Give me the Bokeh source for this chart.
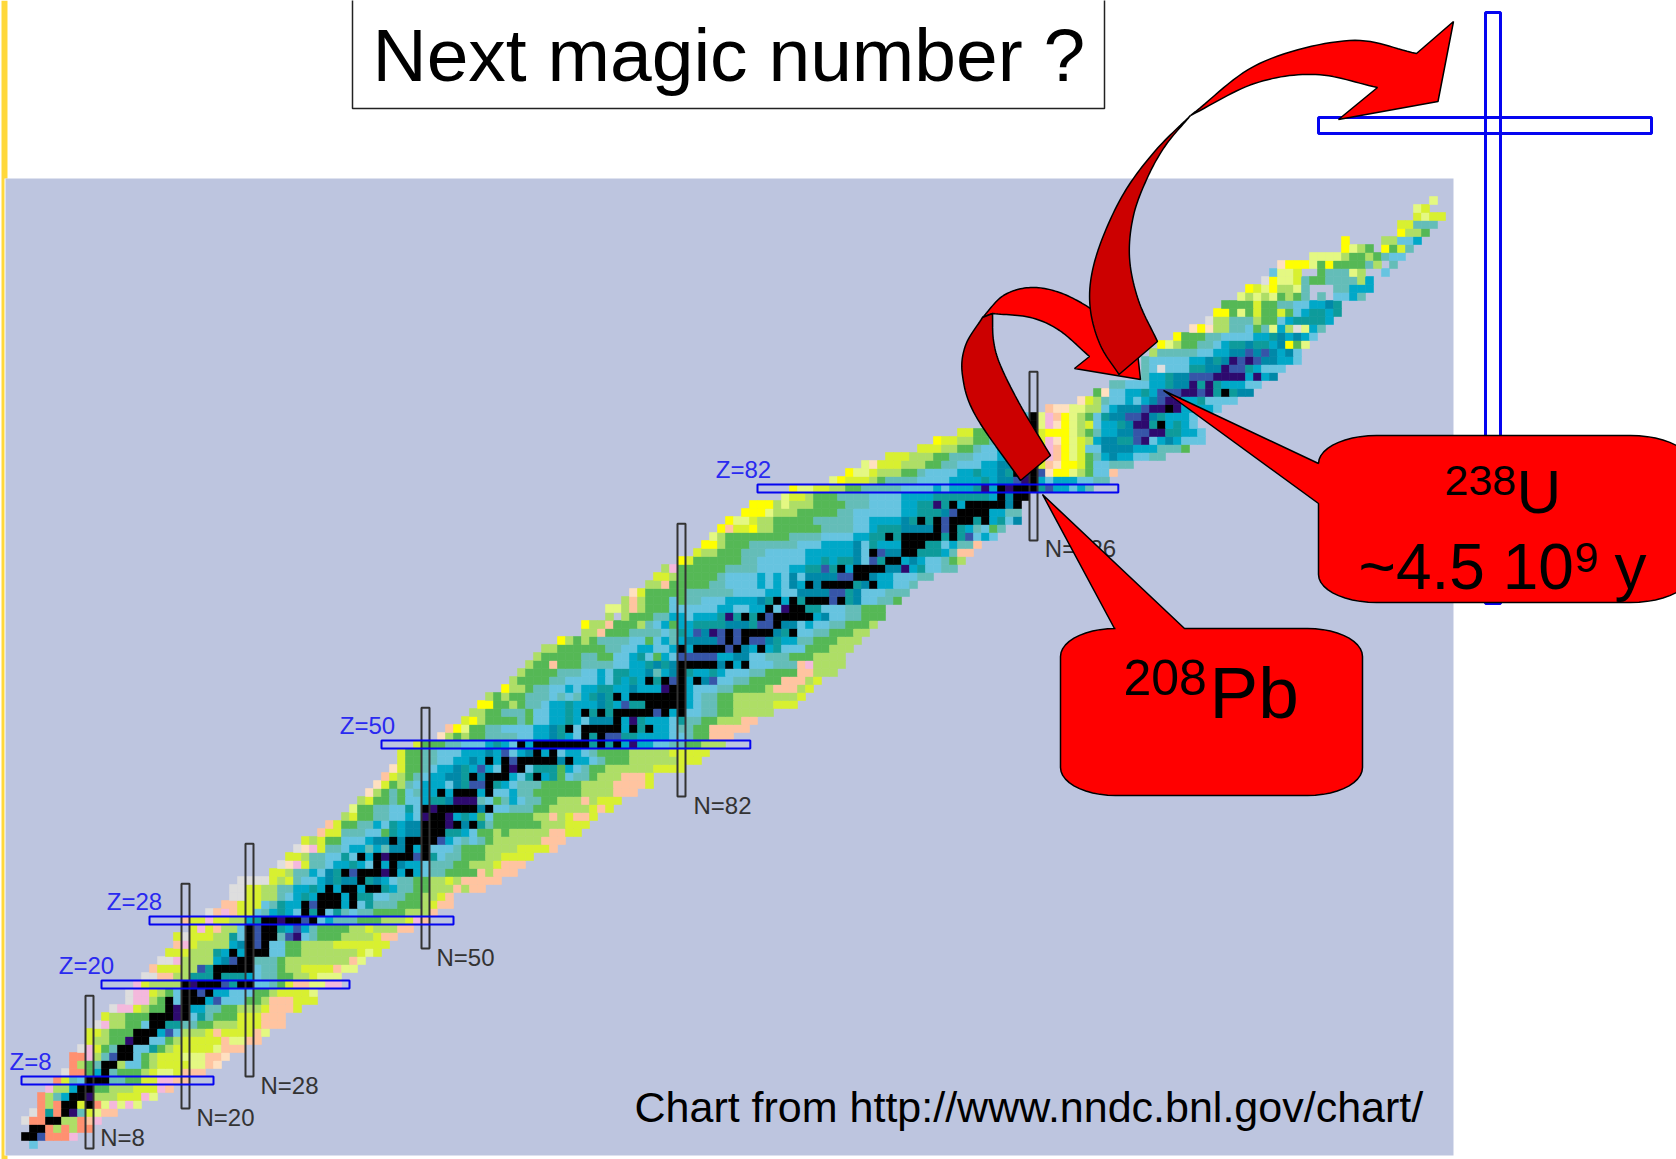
from bokeh.plotting import figure
from bokeh.embed import file_html
from bokeh.resources import INLINE
from bokeh.core.properties import value
from bokeh.models import Range1d
import numpy as np

W, H = 1676, 1159
CELL = 8
X0, Y0 = 25, 1144

PALETTE = {"k": "#000000", "b": "#2d0a6e", "c": "#3655a8", "d": "#0088a8", "e": "#0d9b9b",
           "f": "#00a8c8", "g": "#66c4e0", "h": "#64bdb8", "i": "#55b855", "j": "#aede66",
           "l": "#d8f030", "p": "#e4f882", "y": "#ffff00", "n": "#ffc4a0", "o": "#f4b8dc",
           "s": "#ff9070", "q": "#ffe0c0", "r": "#dedede"}

# (proton number Z, first neutron number N, half-life class of each nuclide in the row)
ROWS = [
 (0,1,"g"),(1,0,"kkcssso"),(2,1,"kksjsjss"),(3,0,"rsskkjjsno"),(4,1,"rseskbhlpnn"),
 (5,2,"sjskklkspopop"),(6,2,"sjhfkkbjjjlllop"),(7,3,"ojjfkkiijjjlllon"),(8,4,"slhgkkkhhiilloonn"),
 (9,5,"rssifkhiiijlpplnnn"),(10,6,"sjihkkjggijllllppnq"),(11,6,"ssojhckkgijlllpppnnq"),
 (12,7,"rolihkkggeijlllllpnnn"),(13,8,"ljjiibkkggijlllllnppnn"),(14,8,"lljiiikkkfcgjjjlnllllnp"),
 (15,9,"rojjiigkkeehhiijjjlllnnn"),(16,10,"ljjiiikkkbkgehiiilllnnn"),(17,11,"rooljiikbkffhhiijjjlnnnl"),
 (18,13,"roojikgkkkfcgggiijnnnlll"),(19,13,"rooljigkkckffgggiijllllp"),(20,14,"oljjjjkbkkkcekkgghilnnppoo"),
 (21,15,"rrnnjjeeekeeefghhiijjlppp"),(22,16,"nllljjcekkkkkghhijjllllnpp"),(23,17,"rrojjjjfdckkhhhijjjjjjjjnp"),
 (24,18,"llljjjefkfkkkggiijjjjjjjlpl"),(25,19,"noljjjjfdkckggiijjjjlllllll"),(26,19,"lrllljjegkckkhcbghiiijjjjlnn"),
 (27,21,"lolnjjgkckkefcfhiiiijjljjjnn"),(28,20,"nllolljjfekkbkkckgfhhhiiijjjlon"),(29,23,"rnonllghfefgkekgehghhiiiijjjn"),
 (30,25,"nnlllgheffkckkkfkgehhhiiijlnn"),(31,26,"rrlljjhgfefkkkfkeegghhiijjln"),(32,26,"rrlljjhhffefkfkkfkkefhhiijjjnjnn"),
 (33,27,"rrrrljlhggfdeddkedfghhiijjljnnnnn"),(34,31,"lljhhfgdekckkkbkfkfghhiiiinjnnn"),(35,32,"rqolhhgffefgkfkdffghhhiijjjlnnn"),
 (36,33,"lljhhggegkfkbkkkckeghhiiijjllll"),(37,34,"rqolhhgffhfhddkfkggghiiijjjjlllln"),(38,35,"ljliigggfddkdkkkkcfghghijjjjjjnnn"),
 (39,37,"nllhhhggiefddkkkeefgiijijjjjjnnll"),(40,38,"nliihhfgefddkkkbkdkehiiiiiijjjlll"),(41,40,"jliihhggfgbkkbfefigiiiiijjnjlnnl"),
 (42,41,"piihhggegkbkkkkkdkgghhhiijjjjjlnl"),(43,42,"jliihiggfeedbbbhgihfghhiijjjnjlll"),
 (44,43,"qjihighffkfkkkfkggfhhiiiiiijjjjnnn"),(45,44,"qlijhgfffgdecckefghhhiiiiijjjjnnnnl"),
 (46,45,"nljihgffddekdkkkfgekfeighhijjjnnnl"),(47,46,"qliihgffdefcfgkbkgeeeifghiijjjjjjllll"),
 (48,47,"liihhggffdfkfkckkkkkdkffghiiijjjjjjlll"),(49,47,"liihhgggfffdfcgfdkfkgffghiiiijjjjjlllll"),
 (50,49,"liiihhgggfefgkfkkkkkkkekekfbffgghhiijjj"),(51,52,"qjijiihhhhggffdefgkekcceeffffgghiinnn"),
 (52,53,"nypiihhggggffdekgkkkkkfkekffghhiinnnnn"),(53,55,"lyjiiiihiggffefgdddkfbefffgehhiijjjnn"),
 (54,56,"jjiihhhiggffefkekekkkkkckfkgghhiijjjjj"),(55,57,"yyiijihhgffefffdefceekkkkkfghhiijjjjjlll"),
 (56,58,"jijiihhhghghfedekfkkkkkkkfghhiijjjjjjjjl"),(57,60,"yjjihhggfgffeeffdfffbkkfggghhiiiijnnnjl"),
 (58,61,"jiiiihhggggfgefefkekckfkdcgghhiiiinnnjl"),(59,62,"jiiiihhhggfgeeffdhfdkeffefggghhiiiinnjjj"),
 (60,63,"jiiniiihhhhggffededkkkkkdkfkggghhhnojjjj"),(61,64,"jiiiiihhiiggfegifgcccccffddgghhhiiijjjj"),
 (62,65,"jjiiiiiihhggffggfkfkkkkckdfkfegggiiijjj"),(63,67,"yjijihhhhggigfhfddddckckccdeffhhiiijjj"),
 (64,70,"jjniiihhhhghefcdbckckkkkdekgghhiiijj"),(65,70,"yjjniiijhgfiffeeeedddecckddgfgghhiiij"),
 (66,73,"j.jiiihhffgfffebekekckkkkkfdgghhiii"),(67,73,"ppjnjiiiggggggffggffkgbkkeeggghhiii"),
 (68,75,"jnjiiigihhgggffffdekfkekkkckedgghhi"),(69,76,"qliiiiihhhhhhggggffggddddccedggghhh"),
 (70,78,"jjniiiiihhggggfgfgdfkdkkkkedkffggh"),(71,79,"lljiiiiihggggfgfgdgddddcckkdffggghh"),
 (72,80,"joiiiiiihhhhggggffeecekfkkkkddbfegghh"),(73,82,"yliiiiiihhggggggffefeedgcekkfdfgghij"),
 (74,84,"ljjiiihhhgggggffffffdgkcddkkeeefhnn"),(75,85,"yyjiiihhhhhhgggffffdgefffkkkeegfhhn"),
 (76,86,"pjiiiiiiiihhhhggggffeekekkkkkekecgfg"),(77,87,"ynllyjjiiiiiihhhhggfeeeddddkckefhgih"),
 (78,88,"yppljjiiiiihhhhhggffffdekekckkkekfegd"),(79,90,"yyypjjjiiiiihhggggggffeeedckkkkffhh"),
 (80,91,"yyyjpjjjiiiihhhggggffeebekfkkkkkdk"),(81,95,"plljiiihhhhggggffffeeeeeeefkdkk"),
 (82,96,"ypplljjiihhhhhggggfgfffebfkbkkkecffgfh"),(83,101,"pyllljihhhhggggffffefddcbkfgfffgghh"),
 (84,103,"yppljjjiihggggffeffdekbkcqyypjiggn"),(85,105,"pqllljjjiihhgggffddfdklnqyyligghhh"),
 (86,108,"llljjjiihhhgggffdcklonyplihfdffgghh"),(87,112,"llljjiihggffdcklonyplggddddfffhhhi"),
 (88,114,"ylljjiihgffdkloqypljfddeecbgfdfggg"),(89,117,"lliiihgfdklyyypjihffddccbbeeffg"),
 (90,122,"ihgfkpoqypjlgffedbbekfefg"),(91,125,"gkponypjigeddccbdefffg"),(92,128,"nqqppjjgfdddcbbkbffffg"),
 (93,132,"qljhggfgfdcbbffegggg"),(94,134,"iqggffefcccbbcbekedd"),(95,136,"hhgggffeddbebefffgg"),
 (96,140,"hffeddcccbbbbfbfd"),(97,140,"hgrgggeeddbccefggg"),(98,140,"hgggggffdedbcbcddffg"),
 (99,141,"jhhhhhggffddcdcdfdg"),(100,142,"ypjiihhgfeedeefdyip"),(101,144,"yiiihhggggffedfdfg"),
 (102,146,"qyqjjhhgihpfjrpfh"),(103,148,"rjjhhhjiigfeeeef"),(104,149,"yyipiliiligfeefe"),
 (105,150,"iiiiliihhggffde"),(106,152,"pjpjpijih.h.ggfh"),(107,153,"ylpyjjph...hhfff"),
 (108,155,"rypplhiihhhhjf"),(109,156,"gppl..ihhhpj..g"),(110,157,"qyyypiyiiiihj.h"),
 (111,161,"ppppjiijihgg"),(112,165,"ypji.yilh"),(113,165,"y....jjggf"),(114,172,"yjji"),
 (115,172,"llhhh"),(116,174,"lpll"),(117,174,"pl"),(118,176,"p"),
]

Z_LINES = [(8, -0.5, 23.5), (20, 9.5, 40.5), (28, 15.5, 53.5), (50, 44.5, 90.6), (82, 91.5, 136.6)]
N_LINES = [(8, -0.5, 18.6), (20, 4.5, 32.6), (28, 8.5, 37.6), (50, 24.5, 54.6), (82, 43.5, 77.6), (126, 75.5, 96.6)]
Z_LABELS = [("Z=8", 30, 1070), ("Z=20", 86, 974), ("Z=28", 134, 910), ("Z=50", 367, 734), ("Z=82", 743, 478)]
N_LABELS = [("N=8", 122, 1146), ("N=20", 225, 1126), ("N=28", 289, 1094), ("N=50", 465, 966), ("N=82", 722, 814), ("N=126", 1080, 557)]


def dx(v):
    return (np.asarray(v, float) - X0) / CELL


def dy(v):
    return (Y0 - np.asarray(v, float)) / CELL


def spline(pts, n=14):
    P = np.array(pts, float)
    q = np.vstack([2 * P[0] - P[1], P, 2 * P[-1] - P[-2]])
    out = []
    for i in range(1, len(q) - 2):
        for t in np.linspace(0, 1, n, endpoint=False):
            a, b, c, d = q[i - 1], q[i], q[i + 1], q[i + 2]
            out.append(0.5 * (2 * b + (c - a) * t + (2 * a - 5 * b + 4 * c - d) * t ** 2 + (3 * b - a - 3 * c + d) * t ** 3))
    out.append(P[-1])
    return [tuple(v) for v in out]


def corner(cx, cy, rx, ry, a0, a1, n=12):
    return [(cx + rx * np.cos(np.radians(a)), cy + ry * np.sin(np.radians(a))) for a in np.linspace(a0, a1, n)]


p = figure(width=W, height=H, output_backend="svg", toolbar_location=None,
           x_range=Range1d(float(dx(0)), float(dx(W))), y_range=Range1d(float(dy(H)), float(dy(0))),
           min_border=0, outline_line_color=None, background_fill_color="white", border_fill_color="white")
p.axis.visible = False
p.grid.visible = False
p.styles = {"position": "absolute", "left": "0px", "top": "0px"}


def poly(pts, fill, line="black", lw=1.5):
    xs, ys = zip(*pts)
    p.patch(dx(xs).tolist(), dy(ys).tolist(), fill_color=fill, line_color=line, line_width=lw)


def box(x0, y0, x1, y1, line, lw=2.0):
    p.patch([x0, x1, x1, x0, x0], [y0, y0, y1, y1, y0], fill_alpha=0, line_color=line, line_width=lw)


def text(x, y, s, size, color="black", align="left"):
    # Alphabetic baselines sit about 0.36 em low here, so lift the anchor.
    yy = y - 0.36 * size
    p.text([float(dx(x))], [float(dy(yy))], text=[s], text_font=value("Liberation Sans"),
           text_font_size=value(f"{size}px"), text_color=color, text_align=align, text_baseline="alphabetic")


# page furniture
poly([(1, 0), (7, 0), (7, 178), (4, 178), (4, 1155), (7, 1155), (7, 1159), (1, 1159)], "#ffd83a", None, 0)
poly([(5, 178), (1453, 178), (1453, 1155), (5, 1155)], "#bdc5df", None, 0)

# nuclide cells
ns, zs, cs = [], [], []
for z, start, row in ROWS:
    for i, ch in enumerate(row):
        if ch in PALETTE:
            ns.append(start + i)
            zs.append(z)
            cs.append(PALETTE[ch])
p.rect(x=ns, y=zs, width=1, height=1, fill_color=cs, line_color=cs, line_width=0.6)

# magic-number boxes
for n, z0, z1 in N_LINES:
    box(n - 0.5, z0, n + 0.5, z1, "#333333", 2.0)
for z, n0, n1 in Z_LINES:
    box(n0, z - 0.5, n1, z + 0.5, "#0505f0", 2.0)
for s, x, y in Z_LABELS:
    text(x, y, s, 24, "#2a2af0", "center")
for s, x, y in N_LABELS:
    text(x, y, s, 24, "#333333", "center")

# the predicted cross at upper right
for x0, y0, x1, y1 in [(1485, 12, 1500, 603), (1318, 117, 1651, 133)]:
    poly([(x0, y0), (x1, y0), (x1, y1), (x0, y1)], None, "#0505f0", 3)

# title
poly([(352, -3), (1104, -3), (1104, 108), (352, 108)], "white", "#222222", 1.5)
text(372, 81, "Next magic number ?", 75)
text(634, 1122, "Chart from http://www.nndc.bnl.gov/chart/", 43)

# callouts
pb = [(1042, 494), (1114, 628)] + corner(1115, 656, 55, 28, 270, 180) + corner(1115, 767, 55, 28, 180, 90) \
    + corner(1307, 767, 55, 28, 90, 0) + corner(1307, 656, 55, 28, 0, -90) + [(1184, 628)]
poly(pb, "#ff0000")
u = [(1163, 390), (1318, 463)] + corner(1376, 463, 58, 28, 180, 270) + corner(1630, 463, 60, 28, 270, 360) \
    + corner(1630, 574, 60, 28, 0, 90) + corner(1376, 574, 58, 28, 90, 180) + [(1318, 503)]
poly(u, "#ff0000")
text(1123, 695, "208", 50)
text(1209, 718, "Pb", 73)
text(1444, 495, "238", 43)
text(1516, 513, "U", 62)
text(1358, 590, "~4.5 10", 64)
text(1574, 572, "9", 43)
text(1614, 590, "y", 64)

# small arrow from Pb
poly(spline([(982, 317), (1003, 295), (1030, 287), (1059, 292), (1090, 308), (1120, 332)]) + [(1137, 352), (1140, 379), (1074, 368), (1089, 356)]
     + spline([(1089, 356), (1059, 330), (1030, 317), (992, 313)]), "#ff0000")
poly(spline([(982, 317), (965, 345), (962, 375), (975, 415), (1020, 480)]) + spline([(1050, 455), (1020, 405), (1000, 365), (993, 340), (992, 313)]), "#cc0000")

# big arrow towards the cross
poly(spline([(1190, 115), (1259, 63), (1349, 40), (1416, 53)]) + [(1453, 21), (1437.5, 101), (1338, 119)]
     + spline([(1377, 87), (1315, 74), (1254, 83), (1190, 115)]), "#ff0000")
poly(spline([(1190, 115), (1155, 150), (1125, 190), (1103, 235), (1091, 275), (1090, 310), (1100, 345), (1118.5, 374)])
     + spline([(1157, 341), (1138, 300), (1129, 257), (1133, 215), (1147, 177), (1165, 145), (1190, 115)]), "#cc0000")

open("out.html", "w").write(file_html(p, INLINE))
